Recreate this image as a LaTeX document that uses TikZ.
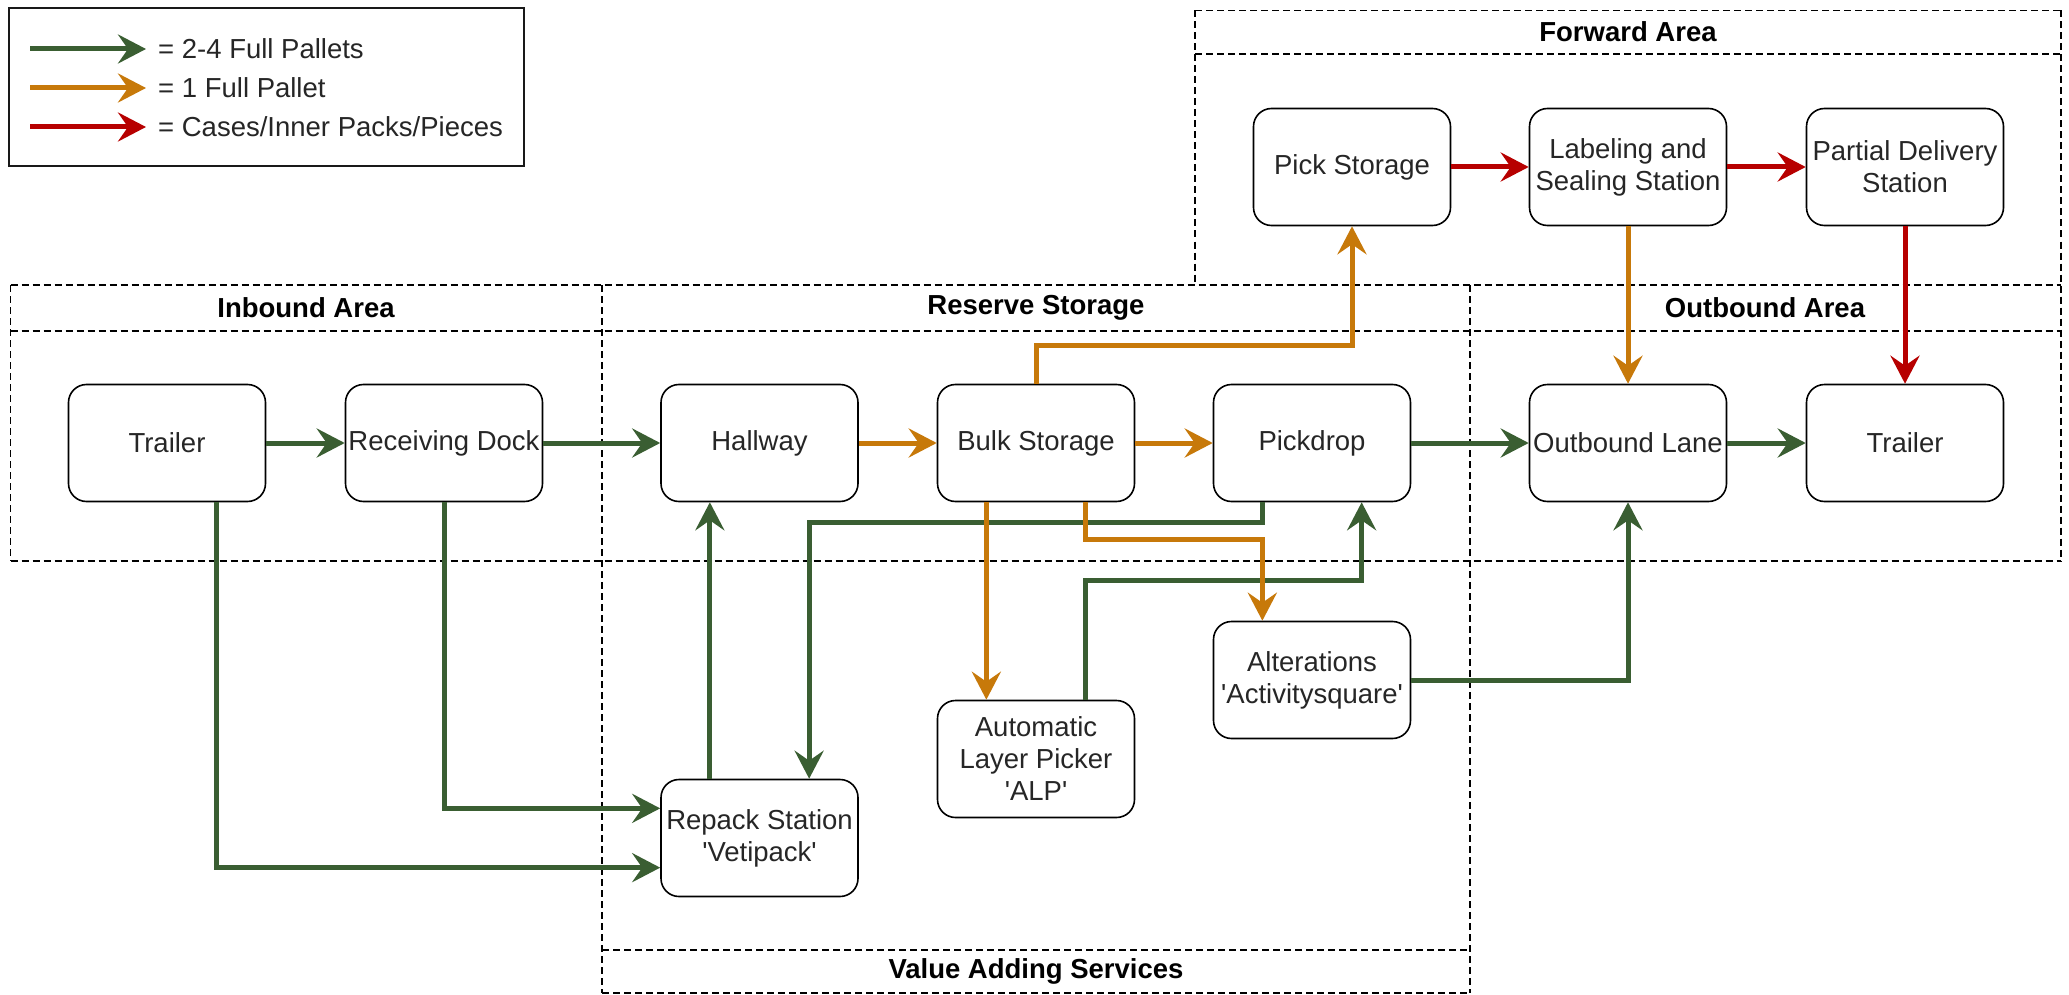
\documentclass[tikz,border=0pt]{standalone}
\usepackage{fontspec}
\setmainfont{Liberation Sans}
\usetikzlibrary{arrows.meta,calc}
\definecolor{palgreen}{RGB}{58,94,50}
\definecolor{palorange}{RGB}{199,121,10}
\definecolor{palred}{RGB}{183,0,0}
\begin{document}
\begin{tikzpicture}[x=1pt,y=-1pt,
  font=\fontsize{27.5}{32}\selectfont,
  box/.style={draw=black, line width=1.6pt, rounded corners=18pt, fill=white,
    minimum width=197pt, minimum height=117pt, align=center, inner sep=0pt, text=black!85},
  zone/.style={draw=black, line width=1.5pt, dash pattern=on 7pt off 4pt},
  zonetitle/.style={font=\fontsize{27.5}{32}\selectfont\bfseries, text=black, inner sep=0pt},
  legtext/.style={anchor=west, text=black!85, inner sep=0pt},
  flow/.style={line width=5pt, -{Stealth[length=28pt,width=29pt,inset=10pt]}},
  gflow/.style={flow, draw=palgreen},
  oflow/.style={flow, draw=palorange},
  rflow/.style={flow, draw=palred}]

% canvas
\useasboundingbox[fill=white] (0,0) rectangle (2069,995);

% ---- areas: every shared border is drawn only once ----
% horizontal borders
\draw[zone] (1195,10.5) -- (2061,10.5);
\draw[zone] (1195,54) -- (2061,54);
\draw[zone] (10.5,285) -- (2061,285);
\draw[zone] (10.5,331) -- (2061,331);
\draw[zone] (10.5,561) -- (2061,561);
\draw[zone] (602,950) -- (1470,950);
\draw[zone] (602,993) -- (1470,993);
% vertical borders
\draw[zone] (1195,10.5) -- (1195,285);
\draw[zone] (2061,10.5) -- (2061,561);
\draw[zone] (10.5,285) -- (10.5,561);
\draw[zone] (602,285) -- (602,993);
\draw[zone] (1470,285) -- (1470,993);
% area titles
\node[zonetitle] (tFwd) at (1628,32) {Forward Area};
\node[zonetitle] (tIn) at (306,308) {Inbound Area};
\node[zonetitle] (tRes) at (1036,308) {Reserve Storage};
\node[zonetitle] (tOut) at (1765,308) {Outbound Area};
\node[zonetitle] (tVas) at (1036,971) {Value Adding Services};

% ---- legend ----
\draw[line width=2pt, draw=black!90] (9,8.5) rectangle (524,166);
\coordinate (lgA1) at (30,49);  \coordinate (lgB1) at (146,49);
\coordinate (lgA2) at (30,88);  \coordinate (lgB2) at (146,88);
\coordinate (lgA3) at (30,127); \coordinate (lgB3) at (146,127);
\draw[gflow] (lgA1) -- (lgB1);
\draw[oflow] (lgA2) -- (lgB2);
\draw[rflow] (lgA3) -- (lgB3);
\node[legtext] (lg1) at (158,49) {= 2-4 Full Pallets};
\node[legtext] (lg2) at (158,88) {= 1 Full Pallet};
\node[legtext] (lg3) at (158,127) {= Cases/Inner Packs/Pieces};

% ---- stations ----
\node[box] (trl)  at (167,443)    {Trailer};
\node[box] (rcv)  at (444,443)    {Receiving Dock};
\node[box] (hall) at (759.5,443)  {Hallway};
\node[box] (bulk) at (1036,443)   {Bulk Storage};
\node[box] (pd)   at (1312,443)   {Pickdrop};
\node[box] (ol)   at (1628,443)   {Outbound Lane};
\node[box] (trr)  at (1905,443)   {Trailer};
\node[box] (pick) at (1352,167)   {Pick Storage};
\node[box] (lab)  at (1628,167)   {Labeling and\\Sealing Station};
\node[box] (pdel) at (1905,167)   {Partial Delivery\\Station};
\node[box] (rep)  at (759.5,838)  {Repack Station\\\textquotesingle Vetipack\textquotesingle};
\node[box] (alp)  at (1036,759)   {Automatic\\Layer Picker\\\textquotesingle ALP\textquotesingle};
\node[box] (alt)  at (1312,680)   {Alterations\\\textquotesingle Activitysquare\textquotesingle};

% ports at quarter points of the box sides
\coordinate (trlS)  at ($(trl.south west)!.75!(trl.south east)$);
\coordinate (repW1) at ($(rep.north west)!.25!(rep.south west)$);
\coordinate (repW3) at ($(rep.north west)!.75!(rep.south west)$);
\coordinate (repN1) at ($(rep.north west)!.25!(rep.north east)$);
\coordinate (repN3) at ($(rep.north west)!.75!(rep.north east)$);
\coordinate (hallS) at ($(hall.south west)!.25!(hall.south east)$);
\coordinate (pdS1)  at ($(pd.south west)!.25!(pd.south east)$);
\coordinate (pdS3)  at ($(pd.south west)!.75!(pd.south east)$);
\coordinate (bulkS1) at ($(bulk.south west)!.25!(bulk.south east)$);
\coordinate (bulkS3) at ($(bulk.south west)!.75!(bulk.south east)$);
\coordinate (alpN1) at ($(alp.north west)!.25!(alp.north east)$);
\coordinate (alpN3) at ($(alp.north west)!.75!(alp.north east)$);
\coordinate (altN1) at ($(alt.north west)!.25!(alt.north east)$);

% bend levels
\coordinate (lvPick) at (0,345.7);
\coordinate (lvRep)  at (0,522.5);
\coordinate (lvAlt)  at (0,539.7);
\coordinate (lvAlp)  at (0,580.6);

% ---- full pallet groups ----
\draw[gflow] (trl) -- (rcv);
\draw[gflow] (rcv) -- (hall);
\draw[gflow] (pd) -- (ol);
\draw[gflow] (ol) -- (trr);
\draw[gflow] (trlS) |- (repW3);
\draw[gflow] (rcv.south) |- (repW1);
\draw[gflow] (repN1) -- (hallS);
\draw[gflow] (pdS1) -- (pdS1 |- lvRep) -- (repN3 |- lvRep) -- (repN3);
\draw[gflow] (alpN3) -- (alpN3 |- lvAlp) -- (pdS3 |- lvAlp) -- (pdS3);
\draw[gflow] (alt.east) -| (ol.south);

% ---- single pallets ----
\draw[oflow] (hall) -- (bulk);
\draw[oflow] (bulk) -- (pd);
\draw[oflow] (bulk.north) -- (bulk.north |- lvPick) -| (pick.south);
\draw[oflow] (bulkS1) -- (alpN1);
\draw[oflow] (bulkS3) -- (bulkS3 |- lvAlt) -- (altN1 |- lvAlt) -- (altN1);
\draw[oflow] (lab) -- (ol);

% ---- cases / pieces ----
\draw[rflow] (pick) -- (lab);
\draw[rflow] (lab) -- (pdel);
\draw[rflow] (pdel) -- (trr);
\end{tikzpicture}
\end{document}
